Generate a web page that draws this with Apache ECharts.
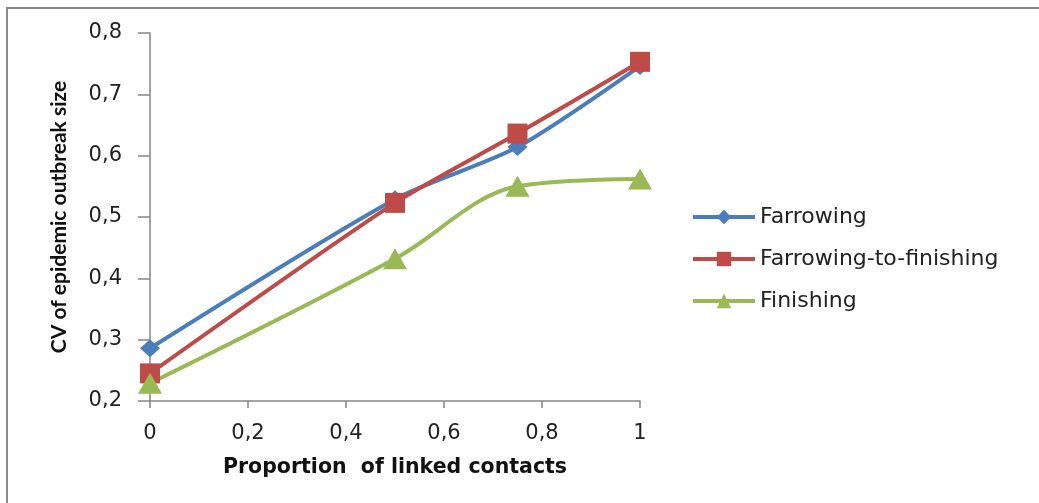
<!DOCTYPE html>
<html>
<head>
<meta charset="utf-8">
<script src="https://cdn.jsdelivr.net/npm/echarts@6/dist/echarts.min.js"></script>
<style>html,body{margin:0;padding:0;background:#fff}#c{width:1039px;height:503px}</style>
</head>
<body>
<div id="c"></div>
<script>
var xValues = [0, 0.5, 0.75, 1];
var farrowing = [0.286, 0.529, 0.614, 0.746];
var farrowingToFinishing = [0.245, 0.523, 0.636, 0.753];
var finishing = [0.229, 0.432, 0.550, 0.562];
var seriesNames = ['Farrowing', 'Farrowing-to-finishing', 'Finishing'];
var xTitle = 'Proportion  of linked contacts';
var yTitle = 'CV of epidemic outbreak size';

function pairs(vals){ return xValues.map(function(x,i){ return [x, vals[i]]; }); }
function fmt(v){ return String(Math.round(v*10)/10).replace('.', ','); }

var font = '"DejaVu Sans", sans-serif';
var axisColor = '#868686';
var chart = echarts.init(document.getElementById('c'));
chart.setOption({
  animation: false,
  backgroundColor: '#fff',
  graphic: [{
    type: 'polyline',
    shape: {points: [[7, 560], [7, 8], [1100, 8]]},
    style: {fill: null, stroke: '#8a8a8a', lineWidth: 2}
  }],
  grid: {left: 150, right: 399, top: 33, bottom: 102},
  legend: {
    orient: 'vertical', left: 686, top: 201, itemGap: 20,
    itemWidth: 62, itemHeight: 18,
    lineStyle: {width: 4},
    textStyle: {fontFamily: font, fontSize: 22, color: '#222'},
    data: seriesNames
  },
  xAxis: {
    type: 'value', min: 0, max: 1, interval: 0.2,
    name: xTitle, nameLocation: 'middle', nameGap: 56,
    nameTextStyle: {fontFamily: font, fontSize: 20.5, fontWeight: 'bold', color: '#111'},
    axisLine: {lineStyle: {color: axisColor, width: 1.5}},
    axisTick: {inside: false, length: 7, lineStyle: {color: axisColor, width: 1.5}},
    axisLabel: {formatter: fmt, fontFamily: font, fontSize: 21, color: '#222', margin: 22},
    splitLine: {show: false}
  },
  yAxis: {
    type: 'value', min: 0.2, max: 0.8, interval: 0.1,
    name: yTitle, nameLocation: 'middle', nameGap: 80, nameRotate: 90,
    nameTextStyle: {fontFamily: 'Lato, sans-serif', fontSize: 21, fontWeight: 'bold', color: '#111'},
    axisLine: {show: true, lineStyle: {color: axisColor, width: 1.5}},
    axisTick: {show: true, length: 12, lineStyle: {color: axisColor, width: 1.5}},
    axisLabel: {formatter: fmt, fontFamily: font, fontSize: 21, color: '#222', margin: 28},
    splitLine: {show: false}
  },
  series: [
    {name: seriesNames[0], type: 'line', data: pairs(farrowing), smooth: 0.25,
     symbol: 'diamond', symbolSize: [20, 18],
     lineStyle: {color: '#4a7ebb', width: 4}, itemStyle: {color: '#4a7ebb'}},
    {name: seriesNames[1], type: 'line', data: pairs(farrowingToFinishing), smooth: 0.25,
     symbol: 'rect', symbolSize: 20,
     lineStyle: {color: '#be4b48', width: 4}, itemStyle: {color: '#be4b48'}},
    {name: seriesNames[2], type: 'line', data: pairs(finishing), smooth: 0.35,
     symbol: 'triangle', symbolSize: [24, 21],
     lineStyle: {color: '#98b954', width: 4}, itemStyle: {color: '#98b954'}}
  ]
});
</script>
</body>
</html>
